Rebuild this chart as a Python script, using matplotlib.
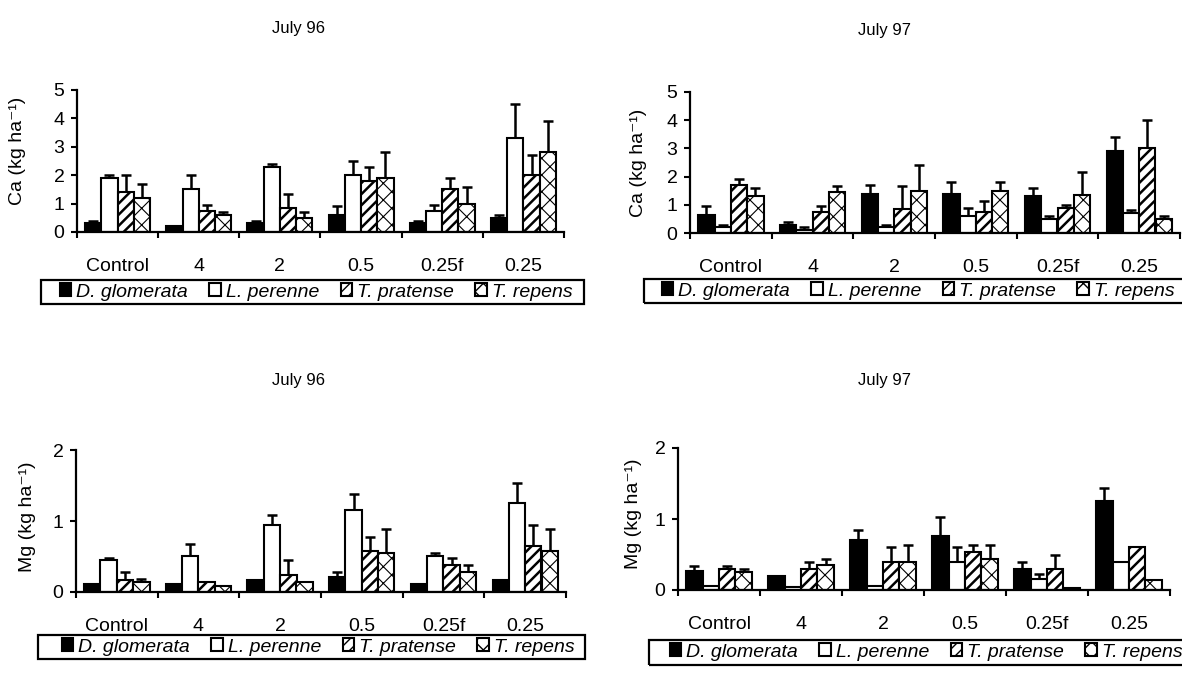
import matplotlib
matplotlib.use('Agg')
import matplotlib.pyplot as plt
from matplotlib.patches import Rectangle
import numpy as np

plt.rcParams['font.family'] = ['Liberation Sans', 'DejaVu Sans']

# Dữ liệu
categories = ['Control', '4', '2', '0.5', '0.25f', '0.25']
species = ['D. glomerata', 'L. perenne', 'T. pratense', 'T. repens']

# Ca July 96 (giá trị và thanh sai số phía trên)
ca96 = [[0.30, 0.20, 0.30, 0.60, 0.30, 0.50],
        [1.90, 1.50, 2.30, 2.00, 0.75, 3.30],
        [1.40, 0.75, 0.85, 1.80, 1.50, 2.00],
        [1.20, 0.60, 0.50, 1.90, 1.00, 2.80]]
ca96_err = [[0.08, 0.00, 0.10, 0.30, 0.10, 0.10],
            [0.10, 0.50, 0.10, 0.50, 0.20, 1.20],
            [0.60, 0.20, 0.50, 0.50, 0.40, 0.70],
            [0.50, 0.10, 0.20, 0.90, 0.60, 1.10]]

# Ca July 97
ca97 = [[0.65, 0.30, 1.40, 1.40, 1.30, 2.90],
        [0.20, 0.10, 0.20, 0.60, 0.50, 0.70],
        [1.70, 0.75, 0.85, 0.75, 0.90, 3.00],
        [1.30, 1.45, 1.50, 1.50, 1.35, 0.50]]
ca97_err = [[0.30, 0.10, 0.30, 0.40, 0.30, 0.50],
            [0.10, 0.10, 0.10, 0.30, 0.10, 0.10],
            [0.20, 0.20, 0.80, 0.40, 0.10, 1.00],
            [0.30, 0.20, 0.90, 0.30, 0.80, 0.10]]

# Mg July 96
mg96 = [[0.10, 0.10, 0.16, 0.20, 0.10, 0.16],
        [0.44, 0.50, 0.94, 1.16, 0.50, 1.26],
        [0.17, 0.14, 0.24, 0.58, 0.38, 0.64],
        [0.14, 0.08, 0.14, 0.54, 0.28, 0.58]]
mg96_err = [[0.00, 0.00, 0.00, 0.08, 0.00, 0.00],
            [0.04, 0.18, 0.14, 0.22, 0.04, 0.28],
            [0.11, 0.00, 0.20, 0.20, 0.10, 0.30],
            [0.04, 0.00, 0.00, 0.34, 0.10, 0.30]]

# Mg July 97
mg97 = [[0.27, 0.20, 0.70, 0.76, 0.30, 1.26],
        [0.05, 0.04, 0.05, 0.40, 0.16, 0.40],
        [0.30, 0.30, 0.40, 0.54, 0.30, 0.60],
        [0.25, 0.35, 0.40, 0.44, 0.03, 0.14]]
mg97_err = [[0.07, 0.00, 0.14, 0.27, 0.10, 0.18],
            [0.00, 0.00, 0.00, 0.20, 0.07, 0.00],
            [0.04, 0.10, 0.20, 0.10, 0.20, 0.00],
            [0.05, 0.09, 0.24, 0.20, 0.00, 0.00]]

mau = ['black', 'white', 'white', 'white']
hoa_van = [None, None, '///', 'xx']
net_hoa_van = [1.0, 1.0, 1.8, 0.8]

W, H = 1182, 679
fig = plt.figure(figsize=(W / 100, H / 100), dpi=100)


def px_axes(left, right, bottom, top):
    return fig.add_axes([left / W, 1 - bottom / H, (right - left) / W, (bottom - top) / H])


def ve_panel(ax, data, err, ymax, ylabel, label_xy, legend_c, box):
    x = np.arange(len(categories))
    w = 0.2
    handles = []
    for i in range(4):
        pos = x + (i - 1.5) * w
        lo = np.zeros(len(categories))
        with plt.rc_context({'hatch.linewidth': net_hoa_van[i]}):
            b = ax.bar(pos, data[i], w, color=mau[i], edgecolor='black', linewidth=1.5,
                       hatch=hoa_van[i], label=species[i], zorder=2)
        ax.errorbar(pos, data[i], yerr=[lo, err[i]], fmt='none', ecolor='black',
                    elinewidth=1.8, capsize=3.8, capthick=1.8, zorder=1)
        handles.append(b)
    ax.set_xlim(-0.5, len(categories) - 0.5)
    ax.set_ylim(0, ymax)
    ax.set_yticks(range(0, ymax + 1))
    ax.set_xticks(np.arange(-0.5, len(categories)), [])
    ax.set_xticks(x, categories, minor=True)
    ax.tick_params(axis='x', which='major', direction='out', length=4, width=1.5)
    ax.tick_params(axis='x', which='minor', length=0, pad=19, labelsize=14)
    ax.tick_params(axis='y', direction='out', length=4, width=1.5, labelsize=14, pad=5)
    for s in ['top', 'right']:
        ax.spines[s].set_visible(False)
    for s in ['left', 'bottom']:
        ax.spines[s].set_linewidth(1.6)
    ax.set_ylabel(ylabel, fontsize=14)
    ax.yaxis.set_label_coords(*label_xy)
    ax.legend(handles=handles, loc='center', ncol=4,
              bbox_to_anchor=(legend_c[0] / W, 1 - legend_c[1] / H),
              bbox_transform=fig.transFigure, frameon=False,
              handlelength=0.6, handleheight=0.6, handletextpad=0.25,
              columnspacing=1.1, borderpad=0.2,
              prop={'style': 'italic', 'size': 14})
    # Khung chú thích
    x0, x1, y0, y1 = box
    fig.add_artist(Rectangle((x0 / W, 1 - y1 / H), (x1 - x0) / W, (y1 - y0) / H,
                             transform=fig.transFigure, fill=False,
                             edgecolor='black', linewidth=1.6))


ax1 = px_axes(77, 564, 232, 90)
ve_panel(ax1, ca96, ca96_err, 5, 'Ca (kg ha⁻¹)', (-0.105, 0.57),
         (316, 292), (41, 584, 280, 304))

ax2 = px_axes(690, 1180, 233, 92)
ve_panel(ax2, ca97, ca97_err, 5, 'Ca (kg ha⁻¹)', (-0.088, 0.5),
         (918, 291), (644, 1195, 279, 303))

ax3 = px_axes(76, 566, 591.5, 450.5)
ve_panel(ax3, mg96, mg96_err, 2, 'Mg (kg ha⁻¹)', (-0.082, 0.53),
         (318, 647), (38, 585, 635, 659))

ax4 = px_axes(678, 1170, 590, 448)
ve_panel(ax4, mg97, mg97_err, 2, 'Mg (kg ha⁻¹)', (-0.073, 0.54),
         (926, 652), (649, 1195, 640, 665))

# Tiêu đề
for tx, ty, t in [(298, 28, 'July 96'), (885, 30, 'July 97'),
                  (298, 380, 'July 96'), (885, 380, 'July 97')]:
    fig.text(tx / W, 1 - ty / H, t, ha='center', va='center', fontsize=12)

fig.savefig('out.png', dpi=100)
